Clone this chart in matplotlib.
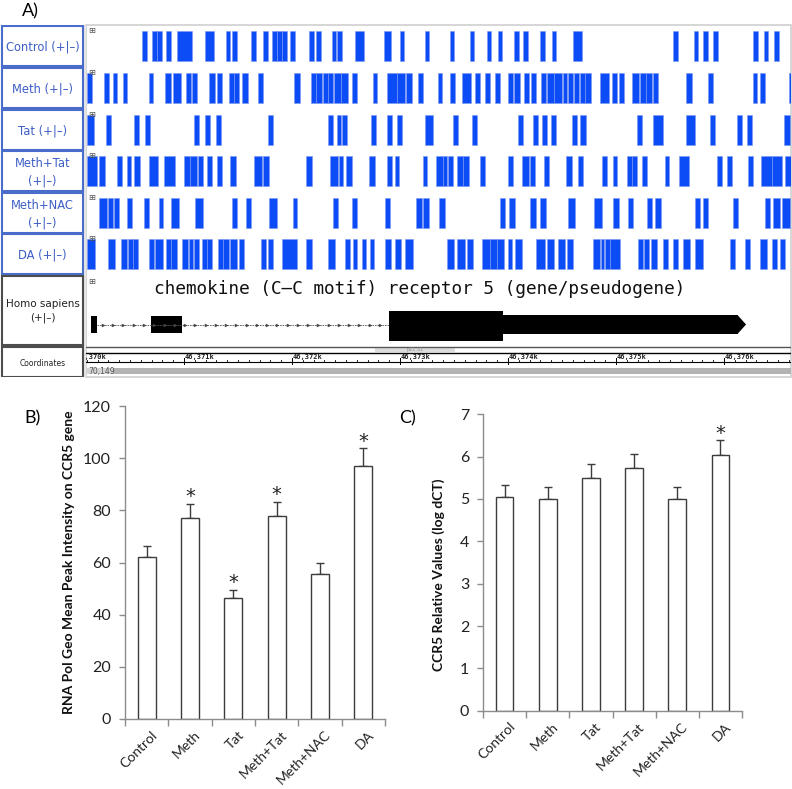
import numpy as np
import matplotlib.pyplot as plt
from matplotlib.patches import Rectangle, Polygon
from matplotlib.transforms import ScaledTranslation

# ---------------------------------------------------------------------------
# Data
# ---------------------------------------------------------------------------
# ChIP peaks (bp offsets from 46,370,000) for each track of panel A
peaks_control = [(610, 655), (705, 750), (750, 795), (835, 880), (935, 1075), (1195, 1280),
                 (1390, 1425), (1445, 1490), (1620, 1665), (1730, 1780), (1815, 1860),
                 (1860, 1910), (1910, 1955), (1980, 2030), (2160, 2205), (2220, 2270),
                 (2370, 2410), (2415, 2465), (2585, 2665), (2850, 2915), (3000, 3035),
                 (3230, 3270), (3465, 3500), (3650, 3685), (3805, 3845), (3910, 3945),
                 (4055, 4100), (4140, 4185), (4295, 4345), (4410, 4445), (4600, 4685),
                 (5530, 5575), (5725, 5760), (5805, 5850), (5900, 5945), (6270, 6315),
                 (6370, 6410), (6465, 6510)]
peaks_meth = [(100, 150), (260, 305), (345, 380), (435, 470), (675, 715), (825, 880),
              (900, 970), (1020, 1065), (1075, 1120), (1230, 1285), (1305, 1350),
              (1415, 1465), (1465, 1510), (1535, 1595), (1685, 1730), (2020, 2075),
              (2175, 2220), (2220, 2280), (2285, 2335), (2335, 2380), (2390, 2455),
              (2455, 2520), (2555, 2600), (2750, 2785), (2880, 2975), (2975, 3045),
              (3055, 3110), (3165, 3215), (3350, 3390), (3465, 3510), (3575, 3660),
              (3695, 3740), (3785, 3835), (3880, 3925), (4000, 4045), (4055, 4110),
              (4150, 4195), (4215, 4260), (4305, 4350), (4360, 4425), (4425, 4500),
              (4510, 4545), (4555, 4600), (4610, 4660), (4665, 4715), (4715, 4770),
              (4850, 4935), (4965, 5010), (5030, 5075), (5150, 5215), (5225, 5280),
              (5280, 5335), (5345, 5390), (5650, 5705), (5850, 5900), (6270, 6305),
              (6335, 6380), (6600, 6620)]
peaks_tat = [(100, 165), (280, 325), (535, 585), (640, 685), (1095, 1140), (1195, 1240),
             (1295, 1345), (1780, 1825), (2335, 2380), (2415, 2455), (2465, 2510),
             (2730, 2780), (2880, 2925), (2975, 3020), (3230, 3305), (3490, 3535),
             (3665, 3715), (4095, 4140), (4230, 4280), (4315, 4360), (4400, 4445),
             (4595, 4640), (4665, 4725), (5195, 5240), (5345, 5435), (5650, 5730),
             (5870, 5915), (6120, 6165), (6215, 6260), (6555, 6610)]
peaks_meth_tat = [(100, 195), (215, 270), (380, 425), (470, 510), (535, 595), (675, 760),
                  (815, 915), (1000, 1055), (1055, 1120), (1130, 1175), (1215, 1260),
                  (1305, 1350), (1425, 1480), (1650, 1720), (1730, 1785), (2130, 2185),
                  (2350, 2425), (2435, 2470), (2500, 2555), (2715, 2770), (2880, 2925),
                  (2955, 2990), (3215, 3250), (3335, 3400), (3400, 3435), (3445, 3490),
                  (3530, 3585), (3585, 3640), (3740, 3785), (4000, 4045), (4130, 4195),
                  (4205, 4250), (4335, 4380), (4535, 4595), (4650, 4695), (4870, 4915),
                  (4975, 5010), (5100, 5150), (5150, 5195), (5240, 5285), (5455, 5490),
                  (5585, 5675), (5935, 5980), (6030, 6075), (6225, 6270), (6345, 6445),
                  (6445, 6540), (6565, 6620)]
peaks_meth_nac = [(215, 285), (295, 345), (350, 400), (470, 520), (630, 675), (770, 805),
                  (880, 955), (1100, 1175), (1445, 1490), (1575, 1620), (1785, 1860),
                  (2010, 2045), (2380, 2425), (2555, 2600), (2860, 2910), (3150, 3205),
                  (3215, 3270), (3360, 3415), (3925, 3975), (4010, 4065), (4205, 4260),
                  (4295, 4350), (4555, 4620), (4795, 4870), (4975, 5030), (5110, 5160),
                  (5285, 5335), (5360, 5415), (5730, 5780), (5805, 5850), (6085, 6130),
                  (6380, 6425), (6455, 6520), (6540, 6610)]
peaks_da = [(100, 175), (295, 360), (415, 470), (480, 530), (530, 575), (675, 720),
            (730, 805), (835, 880), (880, 935), (980, 1035), (1045, 1085), (1095, 1140),
            (1165, 1215), (1215, 1260), (1315, 1360), (1360, 1415), (1425, 1490),
            (1510, 1555), (1715, 1760), (1780, 1825), (1910, 2045), (2130, 2185),
            (2335, 2400), (2490, 2535), (2565, 2600), (2650, 2685), (2720, 2760),
            (2860, 2915), (2955, 3010), (3045, 3120), (3435, 3500), (3530, 3600),
            (3620, 3675), (3760, 3835), (3835, 3900), (3900, 3965), (4000, 4035),
            (4065, 4130), (4260, 4345), (4360, 4425), (4465, 4530), (4545, 4600),
            (4785, 4850), (4860, 4890), (4900, 4945), (4945, 5035), (5205, 5250),
            (5260, 5305), (5325, 5380), (5435, 5480), (5530, 5575), (5620, 5685),
            (5730, 5805), (6055, 6100), (6195, 6240), (6335, 6400), (6445, 6490),
            (6520, 6565)]
track_names = ['Control (+|–)', 'Meth (+|–)', 'Tat (+|–)', 'Meth+Tat\n(+|–)',
               'Meth+NAC\n(+|–)', 'DA (+|–)']
track_peaks = [peaks_control, peaks_meth, peaks_tat, peaks_meth_tat, peaks_meth_nac, peaks_da]

# CCR5 gene model (bp offsets)
utr_exons = [(140, 195), (695, 980)]
cds_exon = (2900, 3955)
utr3 = (3955, 6130)
gene_end = 6205
gene_name = 'chemokine (C–C motif) receptor 5 (gene/pseudogene)'
kb_ticks = [0, 1000, 2000, 3000, 4000, 5000, 6000]
kb_labels = ['46,370k', '46,371k', '46,372k', '46,373k', '46,374k', '46,375k', '46,376k']

# panels B and C
groups = ['Control', 'Meth', 'Tat', 'Meth+Tat', 'Meth+NAC', 'DA']
rnapol_mean = [62.0, 77.2, 46.3, 77.8, 55.7, 97.0]
rnapol_err = [4.3, 5.4, 3.2, 5.5, 4.0, 6.8]
rnapol_sig = [False, True, True, True, False, True]
qpcr_mean = [5.04, 5.01, 5.49, 5.72, 5.00, 6.03]
qpcr_err = [0.30, 0.28, 0.33, 0.34, 0.29, 0.36]
qpcr_sig = [False, False, False, False, False, True]

# ---------------------------------------------------------------------------
W, H = 792, 789
fig = plt.figure(figsize=(W / 100, H / 100), dpi=100)


def px_axes(x0, y0, x1, y1):
    return fig.add_axes([x0 / W, 1 - y1 / H, (x1 - x0) / W, (y1 - y0) / H])


BLUE = '#0b4cf6'
LABEL_BLUE = '#3d5fc6'

# ---- panel A: browser tracks ----------------------------------------------
ax = px_axes(86, 25, 791, 377)
ax.set_xlim(93, 6621)
ax.set_ylim(377, 25)
ax.axis('off')
ax.add_patch(Rectangle((93, 25), 6621 - 93, 352, fill=False, edgecolor='#cfcfcf', lw=1.2,
                       clip_on=False))

track_tops = [31, 73, 115, 156, 198, 239]
for top, pk in zip(track_tops, track_peaks):
    ax.broken_barh([(s, e - s) for s, e in pk], (top, 30), facecolors=BLUE,
                   edgecolors='#7d98f2', linewidth=0.4)
    ax.text(148, top - 1, '⊞', fontsize=6, color='#555555', ha='center', va='center')
ax.text(148, 281, '⊞', fontsize=6, color='#555555', ha='center', va='center')

# gene model
ax.text(3185, 289, gene_name, family='DejaVu Sans Mono', fontsize=12.8,
        ha='center', va='center', color='#111111')
ax.plot([195, cds_exon[0]], [325, 325], color='#555555', lw=0.6, ls=(0, (2, 1)))
arrow_x = np.arange(250, cds_exon[0] - 20, 95)
ax.plot(arrow_x, np.full(len(arrow_x), 325), ls='none', marker='>', ms=2.2,
        mfc='#444444', mec='#444444', mew=0.3)
ax.broken_barh([(s, e - s) for s, e in utr_exons], (316, 17), facecolors='black')
ax.broken_barh([(cds_exon[0], cds_exon[1] - cds_exon[0])], (311, 30), facecolors='black')
ax.broken_barh([(utr3[0], utr3[1] - utr3[0])], (315, 19), facecolors='black')
ax.add_patch(Polygon([(utr3[1] - 5, 315), (gene_end, 324.5), (utr3[1] - 5, 334)],
                     closed=True, facecolor='black', edgecolor='none'))

# coordinate ruler
ax.plot([93, 6621], [347, 347], color='#555555', lw=1.0)
ax.add_patch(Rectangle((2770, 347.5), 740, 4.5, color='#dcdcdc', lw=0))
ax.text(3140, 349.8, 'p21.31', fontsize=3.5, color='#8a8a8a', ha='center', va='center')
ax.plot([93, 6621], [352.5, 352.5], color='black', lw=1.0)
ax.plot([93, 6621], [361.5, 361.5], color='black', lw=0.8)
for t in np.arange(100, 6621, 100):
    ax.plot([t, t], [359.5, 361.5], color='black', lw=0.6)
for t, lab in zip(kb_ticks, kb_labels):
    ax.plot([t, t], [358, 364], color='black', lw=0.7, clip_on=True)
    ax.text(t + 8, 356.5, lab, family='DejaVu Sans Mono', fontsize=5, fontweight='bold',
            ha='left', va='center', color='#222222', clip_on=True)
ax.add_patch(Rectangle((93, 368), 6621 - 93, 6, color='#b3b3b3', lw=0))
ax.add_patch(Rectangle((93, 368), 250, 6, color='#d4d4d4', lw=0))
ax.text(110, 371, '70,149', fontsize=5.5, color='#555555', ha='left', va='center')

# track label column
lab = px_axes(0, 25, 86, 377)
lab.set_xlim(0, 86)
lab.set_ylim(377, 25)
lab.axis('off')
lab.add_patch(Rectangle((83.5, 25), 3, 352, color='#e6e6e6', lw=0))
for top, name in zip(track_tops, track_names):
    lab.add_patch(Rectangle((2, top - 5), 81, 40, facecolor='white',
                            edgecolor='#4a6dcc', lw=1.5))
    lab.text(42.5, top + 16, name, fontsize=8.3, color=LABEL_BLUE, ha='center',
             va='center', linespacing=1.45)
lab.add_patch(Rectangle((2, 276), 81, 69, facecolor='white', edgecolor='#4d4d4d', lw=1.5))
lab.text(42.5, 311, 'Homo sapiens\n(+|–)', fontsize=7.5, color='#222222', ha='center',
         va='center', linespacing=1.5)
lab.add_patch(Rectangle((2, 347), 81, 30, facecolor='white', edgecolor='#4d4d4d', lw=1.5))
lab.text(42.5, 363, 'Coordinates', fontsize=5.5, color='#222222', ha='center', va='center')

fig.text(30 / W, 1 - 11 / H, 'A)', fontsize=13, ha='center', va='center', family='Lato')


# ---- panels B and C: bar charts -------------------------------------------
def bar_panel(rect, vals, errs, sig, ymax, ystep, ylabel, label_xy):
    bx = px_axes(*rect)
    x = np.arange(len(groups))
    bx.bar(x, vals, width=0.41, color='white', edgecolor='#3c3c3c', lw=1.0, zorder=2)
    bx.errorbar(x, vals, yerr=[np.zeros(len(vals)), errs], fmt='none', ecolor='#3c3c3c',
                elinewidth=1.0, capsize=3, capthick=1.0, zorder=1)
    for i, s in enumerate(sig):
        if s:
            bx.annotate('*', (i, vals[i] + errs[i]), xytext=(0, 5),
                        textcoords='offset points', ha='center', va='center',
                        fontsize=14, color='#222222')
    bx.set_xlim(-0.5, len(groups) - 0.5)
    bx.set_ylim(0, ymax)
    bx.set_yticks(np.arange(0, ymax + 0.1, ystep))
    bx.set_xticks(x, groups, rotation=45, ha='right', rotation_mode='anchor')
    bx.set_xticks(np.arange(-0.5, len(groups)), minor=True)
    bx.tick_params(axis='x', which='major', length=0, pad=7, labelsize=10,
                   labelcolor='#222222')
    bx.tick_params(axis='x', which='minor', length=5, color='#8c8c8c', width=1)
    bx.tick_params(axis='y', length=4, color='#8c8c8c', width=1, labelsize=11.5,
                   labelcolor='#222222', pad=6)
    for lbl in bx.get_xticklabels():
        lbl.set_transform(lbl.get_transform() + ScaledTranslation(3 / 72, 0, fig.dpi_scale_trans))
    for s in ('top', 'right'):
        bx.spines[s].set_visible(False)
    for s in ('left', 'bottom'):
        bx.spines[s].set_color('#8c8c8c')
        bx.spines[s].set_linewidth(1)
    bx.set_ylabel(ylabel, fontsize=10, fontweight='bold', color='#111111')
    bx.yaxis.set_label_coords(*label_xy)
    for t in bx.get_xticklabels() + bx.get_yticklabels():
        t.set_family('Lato')
    bx.yaxis.label.set_family('Lato')
    return bx


bar_panel((125, 406, 385, 719), rnapol_mean, rnapol_err, rnapol_sig, 120, 20,
          'RNA Pol Geo Mean Peak Intensity on CCR5 gene', (-0.192, 0.50))
bar_panel((483, 414.3, 742, 710.7), qpcr_mean, qpcr_err, qpcr_sig, 7, 1,
          'CCR5 Relative Values (log dCT)', (-0.147, 0.458))

fig.text(33 / W, 1 - 418 / H, 'B)', fontsize=13, ha='center', va='center', family='Lato')
fig.text(408 / W, 1 - 418 / H, 'C)', fontsize=13, ha='center', va='center', family='Lato')

fig.savefig('out.png', dpi=100)
